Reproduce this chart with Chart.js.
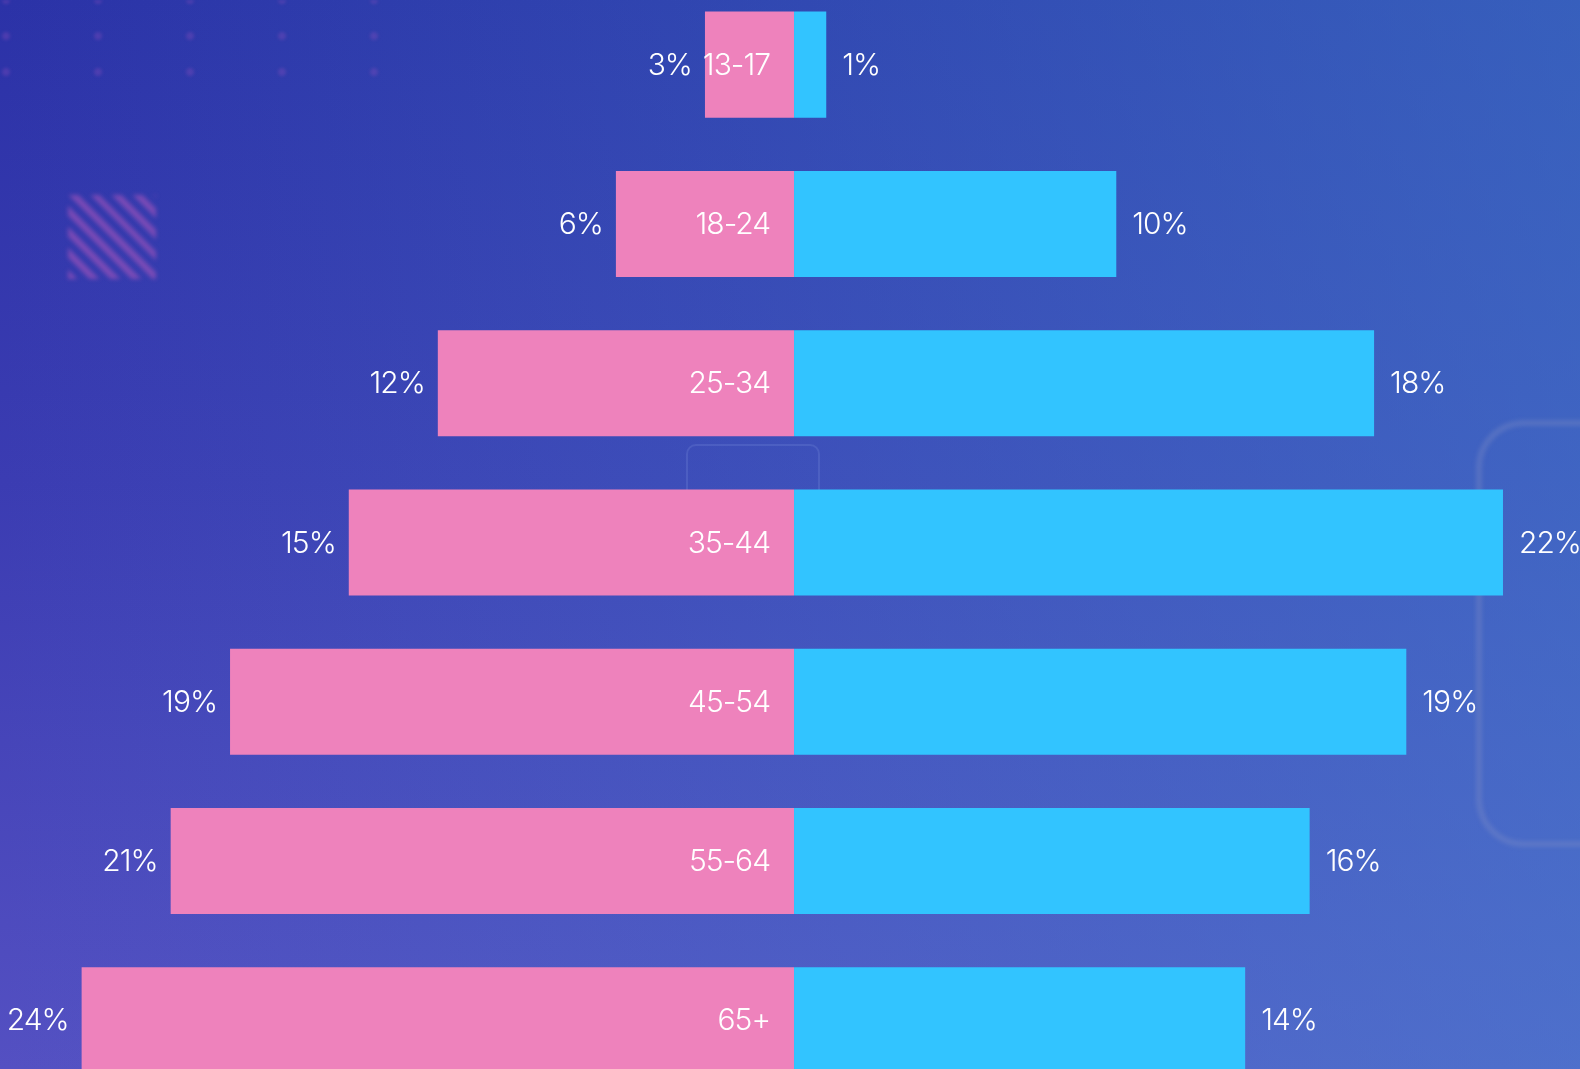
<!DOCTYPE html>
<html>
<head>
<meta charset="utf-8">
<script src="https://cdn.jsdelivr.net/npm/chart.js@4.4.0/dist/chart.umd.min.js"></script>
<style>
  html, body { margin: 0; padding: 0; width: 1580px; height: 1069px; overflow: hidden; }
  body {
    position: relative;
    background:
      linear-gradient(to right, rgba(70,150,215,0) 0%, rgba(70,150,215,0.45) 100%),
      linear-gradient(to bottom, #2b32a7 0%, #3b3cb2 45%, #5450c2 100%);
  }
  .stripes {
    position: absolute; left: 68px; top: 195px; width: 88px; height: 84px;
    background: repeating-linear-gradient(45deg, rgba(190,90,190,0.5) 0 7px, rgba(0,0,0,0) 7px 15px);
    filter: blur(2px);
  }
  .frame {
    position: absolute; left: 1476px; top: 420px; width: 160px; height: 415px;
    border: 6px solid rgba(140,150,200,0.3); border-radius: 48px; filter: blur(2px);
  }
  .frame2 {
    position: absolute; left: 686px; top: 444px; width: 130px; height: 80px;
    border: 2px solid rgba(140,160,230,0.2); border-radius: 10px;
  }
  .dots {
    position: absolute; left: 0; top: 0; width: 400px; height: 90px;
    background-image: radial-gradient(circle, rgba(150,80,190,0.3) 3px, rgba(0,0,0,0) 5px);
    background-size: 92px 36px; background-position: -40px 18px;
    filter: blur(1.5px);
  }
  #wrap { position: absolute; left: 0; top: -15px; width: 1580px; height: 1115px; }
</style>
</head>
<body>
<div class="dots"></div>
<div class="stripes"></div>
<div class="frame"></div>
<div class="frame2"></div>
<div id="wrap"><canvas id="pyramid"></canvas></div>
<script>
// age groups, top to bottom
var ageGroups = ["13-17", "18-24", "25-34", "35-44", "45-54", "55-64", "65+"];
// share per group (%)
var femaleValues = [3, 6, 12, 15, 19, 21, 24];
var maleValues = [1, 10, 18, 22, 19, 16, 14];

var pink = "rgb(238,130,188)";
var cyan = "rgb(50,196,255)";
var labelFont = "300 30px Inter, Lato, sans-serif";

// writes the % next to each bar and the age inside the pink bar
var barLabels = {
  id: 'barLabels',
  afterDatasetsDraw: function(chart) {
    var ctx = chart.ctx;
    ctx.save();
    ctx.font = labelFont;
    ctx.fillStyle = "#ffffff";
    ctx.textBaseline = "middle";
    if ('letterSpacing' in ctx) ctx.letterSpacing = "-1px";

    var left = chart.getDatasetMeta(0);
    left.data.forEach(function(bar, i) {
      ctx.textAlign = "right";
      ctx.fillText(femaleValues[i] + "%", bar.x - 13, bar.y + 1);
      ctx.fillText(ageGroups[i], bar.base - 24, bar.y + 1);
    });

    var right = chart.getDatasetMeta(1);
    right.data.forEach(function(bar, i) {
      ctx.textAlign = "left";
      ctx.fillText(maleValues[i] + "%", bar.x + 16, bar.y + 1);
    });
    ctx.restore();
  }
};

var ctx = document.getElementById('pyramid');
var chart = new Chart(ctx, {
  type: 'bar',
  data: {
    labels: ageGroups,
    datasets: [{
      label: "Female",
      data: femaleValues.map(function(v) { return -v; }),
      backgroundColor: pink,
      xAxisID: 'xL',
      grouped: false
    }, {
      label: "Male",
      data: maleValues,
      backgroundColor: cyan,
      xAxisID: 'xR',
      grouped: false
    }]
  },
  options: {
    indexAxis: 'y',
    responsive: true,
    maintainAspectRatio: false,
    animation: false,
    layout: { padding: 0 },
    categoryPercentage: 1,
    barPercentage: 0.666,
    plugins: {
      legend: { display: false },
      tooltip: { enabled: false }
    },
    scales: {
      // the two sides use slightly different widths per percent
      xL: { type: 'linear', position: 'bottom', min: -26.75, max: 26.48, display: false, grid: { display: false } },
      xR: { type: 'linear', position: 'top', min: -24.64, max: 24.39, display: false, grid: { display: false } },
      y: { display: false, grid: { display: false } }
    }
  },
  plugins: [barLabels]
});
</script>
</body>
</html>
